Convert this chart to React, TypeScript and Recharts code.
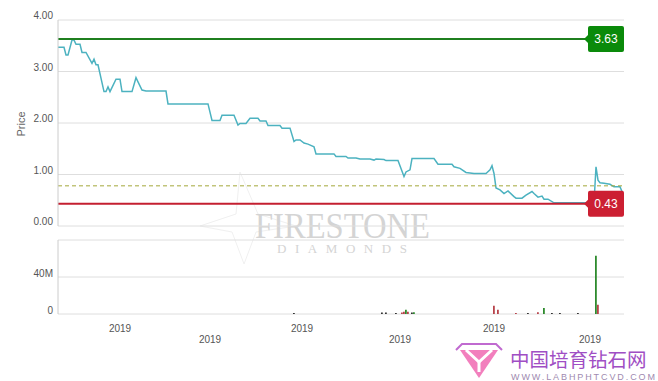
import React from 'react'
import {
  ComposedChart,
  Line,
  Bar,
  XAxis,
  YAxis,
  CartesianGrid,
  ReferenceLine,
} from 'recharts'

// trading day index -> closing price
const priceDays = [
  0, 3, 4, 5, 7, 8, 9, 11, 12, 14, 17, 18, 19, 20, 23, 24, 25, 26, 29, 31,
  32, 37, 39, 40, 42, 44, 54, 55, 75, 77, 81, 82, 88, 90, 91, 94, 96, 100, 101, 104,
  105, 111, 112, 116, 118, 119, 121, 123, 125, 128, 129, 138, 139, 144, 145, 149, 151, 156, 158, 159,
  163, 164, 170, 173, 174, 176, 177, 188, 190, 197, 198, 201, 204, 208, 214, 216, 217, 218, 219, 221,
  223, 225, 228, 229, 232, 234, 237, 238, 240, 242, 243, 245, 248, 268, 269, 270, 271, 273, 276, 278,
  281, 282,
]
const priceValues = [
  3.47, 3.47, 3.32, 3.32, 3.61, 3.61, 3.53, 3.53, 3.37, 3.37, 3.16, 3.24, 3.13, 3.13, 2.61, 2.61, 2.7, 2.61, 2.85, 2.85,
  2.61, 2.61, 2.88, 2.8, 2.64, 2.62, 2.62, 2.37, 2.37, 2.05, 2.05, 2.15, 2.15, 1.96, 1.99, 1.99, 2.09, 2.09, 2.04, 2.04,
  1.95, 1.95, 1.9, 1.9, 1.64, 1.67, 1.67, 1.61, 1.59, 1.54, 1.4, 1.4, 1.35, 1.35, 1.32, 1.32, 1.3, 1.3, 1.28, 1.3,
  1.29, 1.27, 1.27, 0.96, 1.05, 1.09, 1.31, 1.31, 1.2, 1.2, 1.15, 1.12, 1.04, 1.02, 1.02, 1.09, 1.17, 1.02, 0.74, 0.7,
  0.63, 0.68, 0.57, 0.54, 0.54, 0.6, 0.67, 0.63, 0.56, 0.58, 0.52, 0.52, 0.45, 0.45, 1.15, 0.89, 0.84, 0.83, 0.81, 0.76,
  0.76, 0.67,
]
const highPrice = 3.63
const lowPrice = 0.43
const avgPrice = 0.78

const volumeDays = [118, 162, 164, 169, 172, 173, 174, 175, 177, 178, 218, 220, 229, 235, 240, 243, 247, 251, 260, 269, 270]
const volumeValues = [1.2, 1.5, 1.5, 1.2, 1.5, 2.5, 4.5, 2.5, 1.5, 2, 9, 4.5, 1.2, 1.2, 2, 6.5, 1.2, 1.2, 1.2, 63, 10]
const volumeMoves = [
  'flat', 'flat', 'flat', 'flat', 'down', 'down', 'up', 'down', 'flat', 'up',
  'down', 'down', 'down', 'flat', 'down', 'up', 'flat', 'flat', 'flat', 'up', 'down',
]

const dateTicks = [31, 76, 122, 171, 218, 266]
const dateLabels = ['2019', '2019', '2019', '2019', '2019', '2019']

const priceRows = priceDays.map((day, i) => ({ day, price: priceValues[i] }))
const volumeRows = volumeDays.map((day, i) => {
  const v = volumeValues[i] * 1e6
  return {
    day,
    up: volumeMoves[i] === 'up' ? v : 0,
    down: volumeMoves[i] === 'down' ? v : 0,
    flat: volumeMoves[i] === 'flat' ? v : 0,
  }
})

const font = "'Liberation Sans', Arial, sans-serif"
const gridColor = '#dedede'
const tickColor = '#555'

function PriceTick(props: any) {
  const { x, y, payload } = props
  return (
    <text x={x} y={y} dy={-1} textAnchor="end" fontSize={10} fill={tickColor} fontFamily={font}>
      {Number(payload.value).toFixed(2)}
    </text>
  )
}

function VolumeTick(props: any) {
  const { x, y, payload } = props
  const v = payload.value
  const label = v === 0 ? '0' : v === 40e6 ? '40M' : ''
  return (
    <text x={x} y={y} dy={0} textAnchor="end" fontSize={10} fill={tickColor} fontFamily={font}>
      {label}
    </text>
  )
}

function DateTick(props: any) {
  const { x, y, index } = props
  return (
    <text x={x} y={y} dy={index % 2 === 0 ? 10 : 21} textAnchor="middle" fontSize={10} fill={tickColor} fontFamily={font}>
      {dateLabels[index]}
    </text>
  )
}

function PriceTag(props: any) {
  const { viewBox, text, fill } = props
  if (!viewBox) return null
  const right = viewBox.x + viewBox.width
  const y = viewBox.y
  return (
    <g>
      <path d={`M${right - 40},${y} L${right - 35},${y - 5} L${right - 35},${y + 5} Z`} fill={fill} />
      <rect x={right - 36} y={y - 13} width={36} height={26} rx={2} fill={fill} />
      <text x={right - 18} y={y + 4} textAnchor="middle" fill="#fff" fontSize={12} fontFamily={font}>
        {text}
      </text>
    </g>
  )
}

function Watermarks() {
  return (
    <svg width={658} height={381} style={{ position: 'absolute', left: 0, top: 0 }}>
      <g stroke="#f0f0f0" strokeWidth={1} fill="none">
        <path d="M240,172 L258,214 L296,226 L256,232 L244,264 L232,232 L200,226 L236,214 Z" />
      </g>
      <text x={255} y={238} fontSize={36} textLength={175} lengthAdjust="spacingAndGlyphs" fill="#d4d4d4" fontFamily="'Liberation Serif', serif">
        FIRESTONE
      </text>
      <text x={277} y={253} fontSize={13} textLength={130} lengthAdjust="spacing" fill="#d4d4d4" fontFamily="'Liberation Serif', serif">
        DIAMONDS
      </text>
      <text x={25} y={124} transform="rotate(-90 25 124)" textAnchor="middle" fontSize={11} fill="#666" fontFamily={font}>
        Price
      </text>
      <g>
        <path d="M460,350 L498,350 L479,378 Z" fill="#f27fbd" />
        <path d="M466,350 L479,362 L492,350" stroke="#fff" strokeWidth={3} fill="none" />
        <path d="M479,362 L479,372" stroke="#fff" strokeWidth={3} />
        <path d="M456,350 L462,344 L496,344 L502,350" stroke="#c06ad0" strokeWidth={2} fill="none" />
      </g>
      <text x={510} y={367} fontSize={19.5} fill="#a04ec4" fontFamily="'Noto Sans CJK SC', sans-serif">
        中国培育钻石网
      </text>
      <text x={511} y={380} fontSize={9} textLength={144} lengthAdjust="spacing" fill="#a08ab0" fontFamily={font}>
        WWW.LABHPHTCVD.COM
      </text>
    </svg>
  )
}

export default function App() {
  return (
    <div style={{ position: 'absolute', left: 0, top: 0, width: 658, height: 381, background: '#fff', fontFamily: font }}>
      <Watermarks />
      <div style={{ position: 'absolute', left: 0, top: 0 }}>
        <ComposedChart width={658} height={232} data={priceRows} margin={{ top: 20, right: 34, bottom: 6, left: 0 }}>
          <CartesianGrid vertical={false} stroke={gridColor} />
          <XAxis dataKey="day" type="number" domain={[0, 283]} hide />
          <YAxis
            width={58}
            domain={[0, 4]}
            ticks={[0, 1, 2, 3, 4]}
            interval={0}
            tick={<PriceTick />}
            tickSize={3}
            tickMargin={2}
            tickLine={false}
            axisLine={{ stroke: '#ccc' }}
          />
          <Line
            type="linear"
            dataKey="price"
            stroke="#4cb2c0"
            strokeWidth={1.5}
            dot={false}
            isAnimationActive={false}
          />
          <ReferenceLine y={avgPrice} stroke="#a3a83a" strokeDasharray="4 3" strokeWidth={1} />
          <ReferenceLine y={highPrice} stroke="#1f7f1f" strokeWidth={2} label={<PriceTag text="3.63" fill="#0a8a0a" />} />
          <ReferenceLine y={lowPrice} stroke="#c41f30" strokeWidth={2} label={<PriceTag text="0.43" fill="#cc1f32" />} />
        </ComposedChart>
      </div>
      <div style={{ position: 'absolute', left: 0, top: 232 }}>
        <ComposedChart width={658} height={149} data={volumeRows} margin={{ top: 8, right: 34, bottom: 27, left: 0 }}>
          <CartesianGrid vertical={false} stroke={gridColor} />
          <XAxis
            dataKey="day"
            type="number"
            domain={[0, 283]}
            ticks={dateTicks}
            interval={0}
            height={40}
            tick={<DateTick />}
            tickLine={false}
            axisLine={false}
          />
          <YAxis
            width={58}
            domain={[0, 80e6]}
            ticks={[0, 40e6, 80e6]}
            interval={0}
            tick={<VolumeTick />}
            tickSize={3}
            tickMargin={2}
            tickLine={false}
            axisLine={{ stroke: '#ccc' }}
          />
          <Bar dataKey="up" stackId="v" fill="#2e8b2e" barSize={2} isAnimationActive={false} />
          <Bar dataKey="down" stackId="v" fill="#b8434b" barSize={2} isAnimationActive={false} />
          <Bar dataKey="flat" stackId="v" fill="#333" barSize={2} isAnimationActive={false} />
        </ComposedChart>
      </div>
    </div>
  )
}
